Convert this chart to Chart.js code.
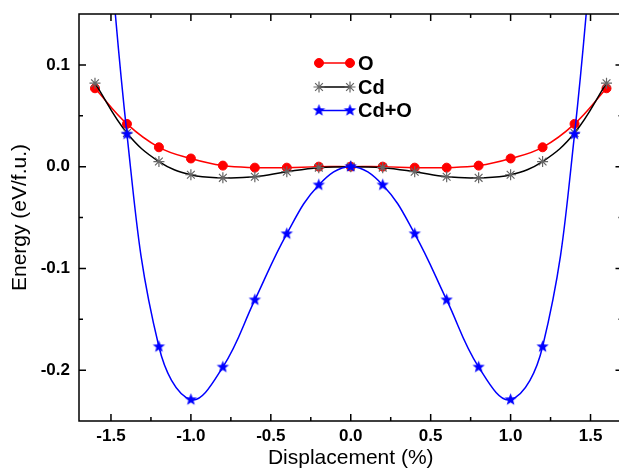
<!DOCTYPE html>
<html>
<head>
<meta charset="UTF-8">
<title>Energy vs displacement</title>
<script src="https://cdn.jsdelivr.net/npm/chart.js@4.4.0/dist/chart.umd.min.js"></script>
<style>
  html, body { margin: 0; padding: 0; background: #fff; overflow: hidden; }
  #wrap { width: 630px; height: 471px; }
</style>
</head>
<body>
<div id="wrap"><canvas id="chart" width="630" height="471"></canvas></div>
<script>
// data
const displacement = [-1.6, -1.4, -1.2, -1.0, -0.8, -0.6, -0.4, -0.2, 0.0, 0.2, 0.4, 0.6, 0.8, 1.0, 1.2, 1.4, 1.6];
const energyO   = [0.077, 0.042, 0.019, 0.008, 0.001, -0.001, -0.001, 0.000, 0.000, 0.000, -0.001, -0.001, 0.001, 0.008, 0.019, 0.042, 0.077];
const energyCd  = [0.082, 0.033, 0.005, -0.008, -0.011, -0.010, -0.005, -0.001, 0.000, -0.001, -0.005, -0.010, -0.011, -0.008, 0.005, 0.033, 0.082];
const energyCdO = [0.400, 0.032, -0.177, -0.229, -0.197, -0.131, -0.066, -0.018, 0.000, -0.018, -0.066, -0.131, -0.197, -0.229, -0.177, 0.032, 0.400];
const seriesNames = ['O', 'Cd', 'Cd+O'];
const xTicks = [-1.5, -1.0, -0.5, 0.0, 0.5, 1.0, 1.5];
const yTicks = [-0.2, -0.1, 0.0, 0.1];

const FONT = "'Liberation Sans', Arial, sans-serif";

// filled five-point star for the Cd+O marker
function makeStar(r, color) {
  const c = document.createElement('canvas');
  c.width = c.height = Math.ceil(r * 2 + 2);
  const g = c.getContext('2d');
  const cx = c.width / 2, cy = c.height / 2;
  g.beginPath();
  for (let i = 0; i < 10; i++) {
    const rad = i % 2 === 0 ? r : r * 0.42;
    const a = -Math.PI / 2 + i * Math.PI / 5;
    g.lineTo(cx + rad * Math.cos(a), cy + rad * Math.sin(a));
  }
  g.closePath();
  g.fillStyle = color;
  g.fill();
  return c;
}
const starImg = makeStar(6.5, '#0000ff');

function toPts(ys) {
  return displacement.map((x, i) => ({ x: x, y: ys[i] }));
}

// major ticks plus minor ones half way between
function withMinors(major, extra) {
  const out = [];
  major.forEach((v, i) => {
    out.push([v, 7]);
    if (i < major.length - 1) out.push([(v + major[i + 1]) / 2, 4]);
  });
  extra.forEach(v => out.push([v, 4]));
  return out;
}

// box frame with inward ticks on all four sides
const framePlugin = {
  id: 'boxFrame',
  afterDatasetsDraw(chart) {
    const ctx = chart.ctx;
    const a = chart.chartArea;
    const sx = chart.scales.x, sy = chart.scales.y;
    ctx.save();
    ctx.strokeStyle = '#000000';
    ctx.lineWidth = 1.5;
    ctx.beginPath();
    ctx.moveTo(a.left, a.top); ctx.lineTo(a.right, a.top); ctx.lineTo(a.right, a.bottom);
    ctx.lineTo(a.left, a.bottom); ctx.closePath();
    withMinors(xTicks, []).forEach(t => {
      const px = sx.getPixelForValue(t[0]);
      ctx.moveTo(px, a.bottom); ctx.lineTo(px, a.bottom - t[1]);
      ctx.moveTo(px, a.top); ctx.lineTo(px, a.top + t[1]);
    });
    withMinors(yTicks, [-0.15]).forEach(t => {
      const py = sy.getPixelForValue(t[0]);
      ctx.moveTo(a.left, py); ctx.lineTo(a.left + t[1], py);
      ctx.moveTo(a.right, py); ctx.lineTo(a.right - t[1], py);
    });
    ctx.stroke();
    ctx.restore();
  }
};

// legend inside the plot
const legendPlugin = {
  id: 'innerLegend',
  afterDraw(chart) {
    const ctx = chart.ctx;
    const rows = [63, 87, 110.5];
    const order = [2, 1, 0];
    ctx.save();
    ctx.font = 'bold 20px ' + FONT;
    ctx.textBaseline = 'middle';
    order.forEach((di, r) => {
      const ds = chart.data.datasets[di];
      const yy = rows[r];
      ctx.strokeStyle = ds.borderColor;
      ctx.lineWidth = ds.borderWidth;
      ctx.beginPath();
      ctx.moveTo(319, yy); ctx.lineTo(350, yy);
      ctx.stroke();
      const opts = { pointStyle: ds.pointStyle, radius: ds.pointRadius, rotation: 0,
                     borderWidth: ds.pointBorderWidth };
      [319, 350].forEach(px => {
        ctx.fillStyle = ds.pointBackgroundColor;
        ctx.strokeStyle = ds.pointBorderColor;
        ctx.lineWidth = ds.pointBorderWidth;
        Chart.helpers.drawPoint(ctx, opts, px, yy);
      });
      ctx.fillStyle = '#000';
      ctx.fillText(ds.label, 358, yy + 1);
    });
    ctx.restore();
  }
};

new Chart(document.getElementById('chart'), {
  type: 'line',
  data: {
    datasets: [
      {
        label: seriesNames[2], data: toPts(energyCdO),
        borderColor: '#0000ff', borderWidth: 1.5, tension: 0.4,
        pointStyle: starImg, pointRadius: 6.5,
        pointBackgroundColor: '#0000ff', pointBorderColor: '#0000ff', pointBorderWidth: 1
      },
      {
        label: seriesNames[1], data: toPts(energyCd),
        borderColor: '#000000', borderWidth: 1.5, tension: 0.4,
        pointStyle: 'star', pointRadius: 5.5,
        pointBackgroundColor: '#666666', pointBorderColor: '#666666', pointBorderWidth: 1.2
      },
      {
        label: seriesNames[0], data: toPts(energyO),
        borderColor: '#ff0000', borderWidth: 1.5, tension: 0.4,
        pointStyle: 'circle', pointRadius: 4.5,
        pointBackgroundColor: '#ff0000', pointBorderColor: '#ff0000', pointBorderWidth: 1
      }
    ]
  },
  options: {
    responsive: false,
    animation: false,
    devicePixelRatio: 1,
    layout: { padding: { top: 14, right: 5.5, left: 0, bottom: 0 } },
    plugins: { legend: { display: false }, tooltip: { enabled: false } },
    scales: {
      x: {
        type: 'linear', min: -1.7, max: 1.7,
        afterBuildTicks: s => { s.ticks = xTicks.map(v => ({ value: v })); },
        afterFit: s => { s.height = 50; s.paddingLeft = 0; s.paddingRight = 0; },
        grid: { display: false, drawTicks: false }, border: { display: false },
        ticks: { color: '#000', padding: 5, font: { family: FONT, size: 17, weight: 'bold' },
                 callback: v => v.toFixed(1) },
        title: { display: true, text: 'Displacement (%)', color: '#000',
                 font: { family: FONT, size: 21 }, padding: { top: 0, bottom: 0 } }
      },
      y: {
        type: 'linear', min: -0.25, max: 0.15,
        afterBuildTicks: s => { s.ticks = yTicks.map(v => ({ value: v })); },
        afterFit: s => { s.width = 79; s.paddingTop = 0; s.paddingBottom = 0; },
        grid: { display: false, drawTicks: false }, border: { display: false },
        ticks: { color: '#000', padding: 9, font: { family: FONT, size: 17, weight: 'bold' },
                 callback: v => v.toFixed(1) },
        title: { display: true, text: 'Energy (eV/f.u.)', color: '#000',
                 font: { family: FONT, size: 21 }, padding: { top: 8, bottom: 0 } }
      }
    }
  },
  plugins: [framePlugin, legendPlugin]
});
</script>
</body>
</html>
